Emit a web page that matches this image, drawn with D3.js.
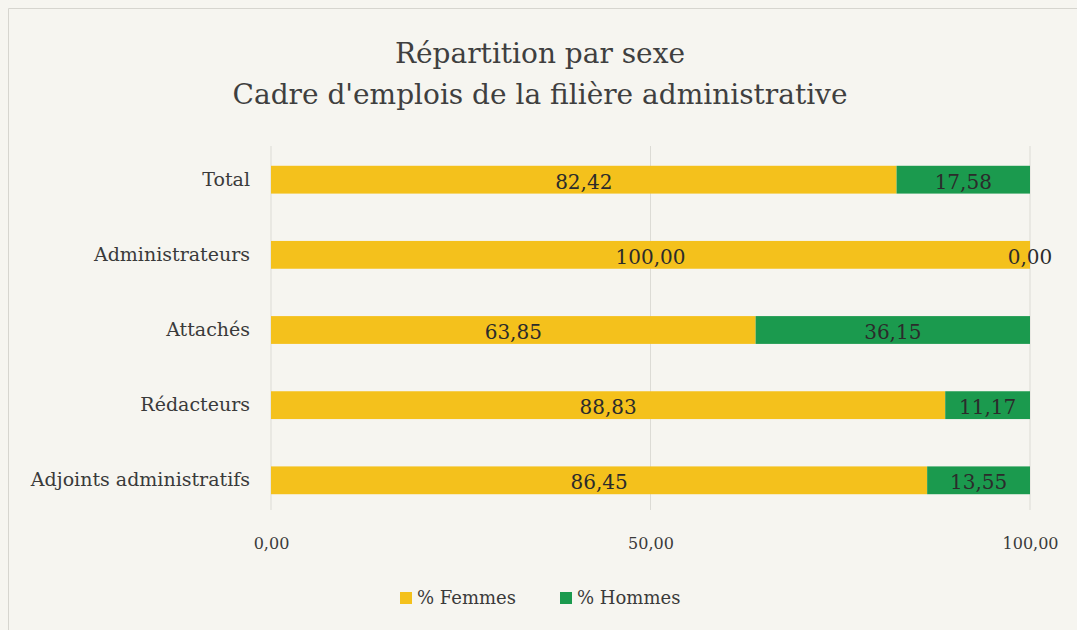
<!DOCTYPE html>
<html>
<head>
<meta charset="utf-8">
<script src="https://cdn.jsdelivr.net/npm/d3@7"></script>
<style>
  body { margin: 0; background: #f6f5f0; }
  svg { display: block; font-family: 'DejaVu Serif', 'Liberation Serif', serif; }
</style>
</head>
<body>
<div class="chart"></div>
<script>
const categories = ['Total', 'Administrateurs', 'Attachés', 'Rédacteurs', 'Adjoints administratifs'];
const femmes = [82.42, 100.00, 63.85, 88.83, 86.45];
const hommes = [17.58, 0.00, 36.15, 11.17, 13.55];
const seriesNames = ['% Femmes', '% Hommes'];
const xTicks = [0, 50, 100];
const titleLines = ['Répartition par sexe', "Cadre d'emplois de la filière administrative"];

const width = 1077, height = 630;
const margin = {top: 150, right: 47, bottom: 120, left: 271};
const innerWidth = width - margin.left - margin.right;
const innerHeight = height - margin.top - margin.bottom;
const colors = ['#f4c11c', '#1b9a4e'];
const fmt = v => d3.format('.2f')(v).replace('.', ',');

const data = categories.map((c, i) => ({cat: c, f: femmes[i], h: hommes[i]}));
const series = d3.stack().keys(['f', 'h'])(data);

const x = d3.scaleLinear().domain([0, 100]).range([0, innerWidth]);
const y = d3.scaleBand().domain(categories).range([0, innerHeight]).paddingInner(0.63).paddingOuter(0.21);

const svg = d3.select('.chart').append('svg')
  .attr('width', width)
  .attr('height', height);

// faint frame of the scanned page (top and left edges)
svg.append('path')
  .attr('d', `M8.5,${height} V8.5 H${width}`)
  .attr('fill', 'none')
  .attr('stroke', '#d6d5cf');

// title
svg.append('g').selectAll('text')
  .data(titleLines)
  .enter().append('text')
  .attr('x', 540)
  .attr('y', (d, i) => 63 + i * 41)
  .attr('text-anchor', 'middle')
  .attr('font-size', 28)
  .attr('fill', '#3f3f3f')
  .text(d => d);

const g = svg.append('g')
  .attr('transform', `translate(${margin.left},${margin.top})`);

// grid lines
g.append('g').selectAll('line')
  .data(xTicks)
  .enter().append('line')
  .attr('x1', d => x(d)).attr('x2', d => x(d))
  .attr('y1', -4).attr('y2', innerHeight)
  .attr('stroke', '#dcdbd5')
  .attr('stroke-width', 1);

// bars
g.append('g').selectAll('g')
  .data(series)
  .enter().append('g')
  .attr('fill', (d, i) => colors[i])
  .selectAll('rect')
  .data(d => d)
  .enter().append('rect')
  .attr('x', d => x(d[0]))
  .attr('y', d => y(d.data.cat))
  .attr('width', d => x(d[1]) - x(d[0]))
  .attr('height', y.bandwidth());

// value labels
g.append('g').selectAll('g')
  .data(series)
  .enter().append('g')
  .selectAll('text')
  .data(d => d.map(v => ({v, key: d.key})))
  .enter().append('text')
  .attr('x', d => (x(d.v[0]) + x(d.v[1])) / 2)
  .attr('y', d => y(d.v.data.cat) + y.bandwidth() / 2 + 9)
  .attr('text-anchor', 'middle')
  .attr('font-size', 20)
  .attr('fill', '#2b2b2b')
  .text(d => fmt(d.v.data[d.key]));

// category axis
const yAxis = g.append('g')
  .call(d3.axisLeft(y).tickSize(0).tickPadding(21));
yAxis.select('.domain').remove();
yAxis.selectAll('text')
  .attr('font-size', 19)
  .attr('font-family', 'DejaVu Serif, serif')
  .attr('fill', '#3a3a3a');

// value axis
const xAxis = g.append('g')
  .attr('transform', `translate(0,${innerHeight})`)
  .call(d3.axisBottom(x).tickValues(xTicks).tickFormat(fmt).tickSize(0).tickPadding(28));
xAxis.select('.domain').remove();
xAxis.selectAll('text')
  .attr('font-size', 16)
  .attr('font-family', 'DejaVu Serif, serif')
  .attr('fill', '#3a3a3a');

// legend
const legend = svg.append('g')
  .attr('transform', 'translate(400,598)');
const entries = legend.selectAll('g')
  .data(seriesNames)
  .enter().append('g')
  .attr('transform', (d, i) => `translate(${i * 160},0)`);
entries.append('rect')
  .attr('x', 0).attr('y', -6)
  .attr('width', 12).attr('height', 12)
  .attr('fill', (d, i) => colors[i]);
entries.append('text')
  .attr('x', 17).attr('y', 6)
  .attr('font-size', 18)
  .attr('fill', '#3a3a3a')
  .text(d => d);
</script>
</body>
</html>
